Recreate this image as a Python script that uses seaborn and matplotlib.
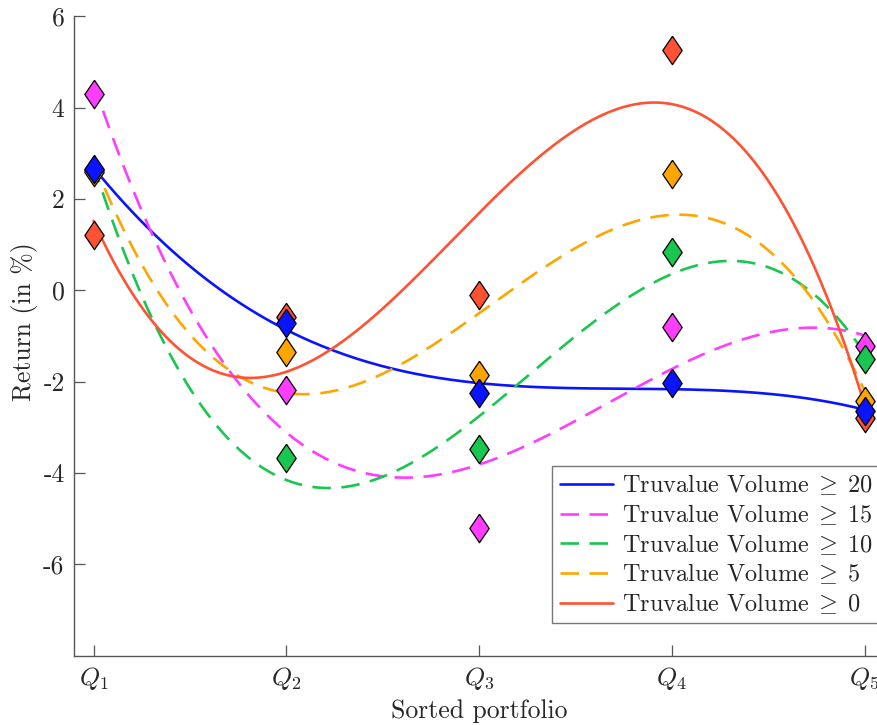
import numpy as np
import pandas as pd
import matplotlib
matplotlib.use("Agg")
import matplotlib.pyplot as plt
import seaborn as sns

# ---- data ----
portfolios = [1, 2, 3, 4, 5]
tick_labels = [r"$Q_1$", r"$Q_2$", r"$Q_3$", r"$Q_4$", r"$Q_5$"]
vol20 = [2.65, -0.72, -2.25, -2.02, -2.65]
vol15 = [4.30, -2.19, -5.20, -0.80, -1.22]
vol10 = [2.63, -3.68, -3.47, 0.83, -1.50]
vol5 = [2.60, -1.35, -1.85, 2.55, -2.42]
vol0 = [1.22, -0.59, -0.10, 5.27, -2.80]
series_names = [r"Truvalue Volume$\;\geq\;$20", r"Truvalue Volume$\;\geq\;$15",
                r"Truvalue Volume$\;\geq\;$10", r"Truvalue Volume$\;\geq\;$5",
                r"Truvalue Volume$\;\geq\;$0"]
series_values = [vol20, vol15, vol10, vol5, vol0]
colors = ["#0a14ff", "#ff3dff", "#19c64f", "#ffa500", "#ff5233"]
dashed = [False, True, True, True, False]
yticks = [-6, -4, -2, 0, 2, 4, 6]
ytick_labels = ["-6", "-4", "-2", "0", "2", "4", "6"]

sns.set_theme(style="white")
plt.rcParams["font.family"] = ["cmr10", "DejaVu Serif"]
plt.rcParams["mathtext.fontset"] = "cm"
plt.rcParams["axes.unicode_minus"] = False

fig = plt.figure(figsize=(8.78, 7.25), dpi=100)
ax = fig.add_axes([0.0846, 0.0956, 0.922, 0.882])

FS = 18.5
LFS = 17.5
xfine = np.linspace(1, 5, 200)
for name, vals, c, d in zip(series_names, series_values, colors, dashed):
    coef = np.polyfit(portfolios, vals, 3)
    df = pd.DataFrame({"x": xfine, "y": np.polyval(coef, xfine)})
    ls = (0, (7, 4)) if d else "-"
    sns.lineplot(data=df, x="x", y="y", ax=ax, color=c, lw=1.9,
                 linestyle=ls, label=name, sort=False, estimator=None)

diamond = [(0, 1), (0.68, 0), (0, -1), (-0.68, 0), (0, 1)]
order = [1, 2, 3, 4, 0]
for i in order:
    df = pd.DataFrame({"x": portfolios, "y": series_values[i]})
    sns.scatterplot(data=df, x="x", y="y", ax=ax, marker=diamond, s=420,
                    color=colors[i], edgecolor="black", linewidth=0.9,
                    legend=False, zorder=5)

ax.set_xlim(0.9, 5.1)
ax.set_ylim(-8, 6)
ax.set_xticks(portfolios)
ax.set_xticklabels(tick_labels, fontsize=FS)
ax.set_yticks(yticks)
ax.set_yticklabels(ytick_labels, fontsize=FS)
ax.tick_params(direction="in", length=8, width=0.9, color="#555555",
               labelcolor="#262626", pad=7, left=True, bottom=True)
ax.tick_params(axis="x", pad=7)
for s in ["top", "right"]:
    ax.spines[s].set_visible(False)
for s in ["left", "bottom"]:
    ax.spines[s].set_color("#555555")
    ax.spines[s].set_linewidth(1.0)
ax.set_xlabel("Sorted portfolio", fontsize=FS, color="#262626")
ax.set_ylabel("Return (in %)", fontsize=FS, color="#262626")
ax.xaxis.set_label_coords(0.5, -0.086)
ax.xaxis.label.set_va("center")
ax.yaxis.set_label_coords(-0.061, 0.523)
ax.yaxis.label.set_va("center")

leg = ax.legend(loc="lower right", bbox_to_anchor=(0.995, 0.0506),
                borderaxespad=0, fontsize=LFS, frameon=True, fancybox=False,
                handlelength=2.2, handletextpad=0.35, labelspacing=0.2,
                borderpad=0.3)
leg.get_frame().set_edgecolor("#555555")
leg.get_frame().set_linewidth(1.0)

fig.savefig("out.png", dpi=100)
